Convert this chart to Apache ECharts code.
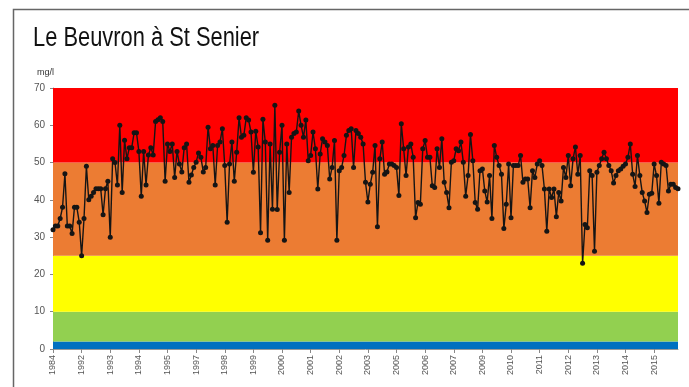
<!DOCTYPE html>
<html>
<head>
<meta charset="utf-8">
<script src="https://cdn.jsdelivr.net/npm/echarts@6/dist/echarts.min.js"></script>
<style>
html,body{margin:0;padding:0;background:#fff;}
#chart{width:689px;height:387px;}
</style>
</head>
<body>
<div id="chart"></div>
<script>
// ---- data ----
const chartTitle = "Le Beuvron à St Senier";
const unitLabel = "mg/l";
const tickLabels = ["1984","1992","1993","1994","1995","1997","1998","1999","2000","2001","2002","2003","2005","2006","2007","2009","2010","2011","2012","2013","2014","2015"];
const labelStep = 12;
const values = [
 32,33,33,35,38,47,33,33,31,38,38,34,25,35,49,40,41,42,43,43,43,36,43,45,30,51,50,44,60,42,56,51,54,54,58,58,53,41,53,44,52,54,52,61,61.5,62,61,45,55,53,55,46,53,
 49.6,47.5,54,55,44.7,46.7,48.7,50.1,52.6,51.4,47.5,48.7,59.5,53.7,54.6,44,54.6,55.5,59.1,49.2,34,49.6,55.5,45,52.8,62,56.8,57.3,62,61.4,58.2,47.4,58.4,54.2,31.2,61.6,55.5,29.2,55,37.5,65.4,37.4,52.8,60,29.2,55,42,56.8,57.8,
 58.2,63.8,60,56.8,61.4,50.5,51.9,58.2,53.7,42.9,52.3,56.4,55.5,54.6,45.6,48.7,55.9,29.2,47.8,48.7,51.9,57.3,58.6,59.1,48.7,58.6,57.8,56.8,55,44.7,39.4,44.2,47.4,54.6,32.8,51,55.5,46.9,47.5,49.6,49.6,49.2,48.7,41.2,60.4,53.7,46.5,54.2,55,51.4,35.2,
 39.3,38.8,53.7,55.9,51.4,51.4,43.8,43.3,53.7,48.7,56.4,44.7,42,37.9,50.1,50.5,53.7,53.2,55.5,50.1,41,46.5,57.5,50.5,39.3,37.5,47.8,48.3,42.4,39.4,46.5,35,54.6,51.4,49.2,46.9,32.3,38.8,49.6,35.2,49.2,49.2,49.2,51.9,44.7,45.6,45.6,37.9,47.8,46,49.6,
 50.5,49.2,42.9,31.6,42.9,40.6,42.9,35.5,42,39.7,48.7,46,51.9,43.8,51,54.2,46.9,51.9,23,33.4,32.5,47.8,46.5,26.2,47.4,49.2,51,52.8,51,49.2,47.8,44.5,46.5,47.8,48.3,49,49.6,51.4,55,46.9,43.6,51.9,46.5,42,39.7,36.6,41.5,41.8,49.6,46.5,39.1,50.1,49.6,49.2,42.4,44.2,44.2,43.3,43
];
const bandEdges = [0, 2, 10, 25, 50, 70];
const bandColors = ["#0070C0", "#92D050", "#FFFF00", "#EC7C33", "#FF0000"];

// ---- build ----
const categories = values.map((v, i) => String(i));
const bands = [];
for (let i = 0; i < bandColors.length; i++) {
  bands.push([{yAxis: bandEdges[i], itemStyle: {color: bandColors[i], opacity: 1}}, {yAxis: bandEdges[i + 1]}]);
}

const chart = echarts.init(document.getElementById('chart'), null, {renderer: 'canvas'});
chart.setOption({
  animation: false,
  backgroundColor: '#fff',
  graphic: [
    {type: 'rect', left: 11, top: 7, shape: {width: 700, height: 400}, style: {fill: 'none', stroke: '#666', lineWidth: 1.5}, silent: true},
    {type: 'text', x: 33, y: 25, scaleX: 0.81, scaleY: 1,
     style: {text: chartTitle, font: "27px 'Liberation Sans', sans-serif", fill: '#111', textVerticalAlign: 'top', verticalAlign: 'top'}},
    {type: 'text', left: 37, top: 68, style: {text: unitLabel, font: "9px 'Liberation Sans', sans-serif", fill: '#333'}}
  ],
  grid: {left: 53, right: 11, top: 88, bottom: 38, containLabel: false},
  xAxis: {
    type: 'category',
    data: categories,
    boundaryGap: false,
    axisLine: {lineStyle: {color: '#999'}},
    axisTick: {interval: (i) => i % labelStep === 0, length: 4, lineStyle: {color: '#888'}},
    axisLabel: {
      interval: (i) => i % labelStep === 0,
      formatter: (v, i) => tickLabels[i / labelStep] || '',
      rotate: 90, fontSize: 9, color: '#555', margin: 6,
      fontFamily: "'Liberation Sans', sans-serif"
    },
    splitLine: {show: false}
  },
  yAxis: {
    type: 'value', min: 0, max: 70, interval: 10,
    axisLine: {show: true, lineStyle: {color: '#999'}},
    axisTick: {show: true, length: 3, lineStyle: {color: '#888'}},
    axisLabel: {fontSize: 10, color: '#555', margin: 8, fontFamily: "'Liberation Sans', sans-serif"},
    splitLine: {show: false}
  },
  series: [{
    type: 'line',
    data: values,
    symbol: 'circle',
    symbolSize: 5,
    showAllSymbol: true,
    itemStyle: {color: '#151515'},
    lineStyle: {color: '#151515', width: 1.4},
    z: 5,
    markArea: {silent: true, data: bands, z: 1}
  }]
});
</script>
</body>
</html>
